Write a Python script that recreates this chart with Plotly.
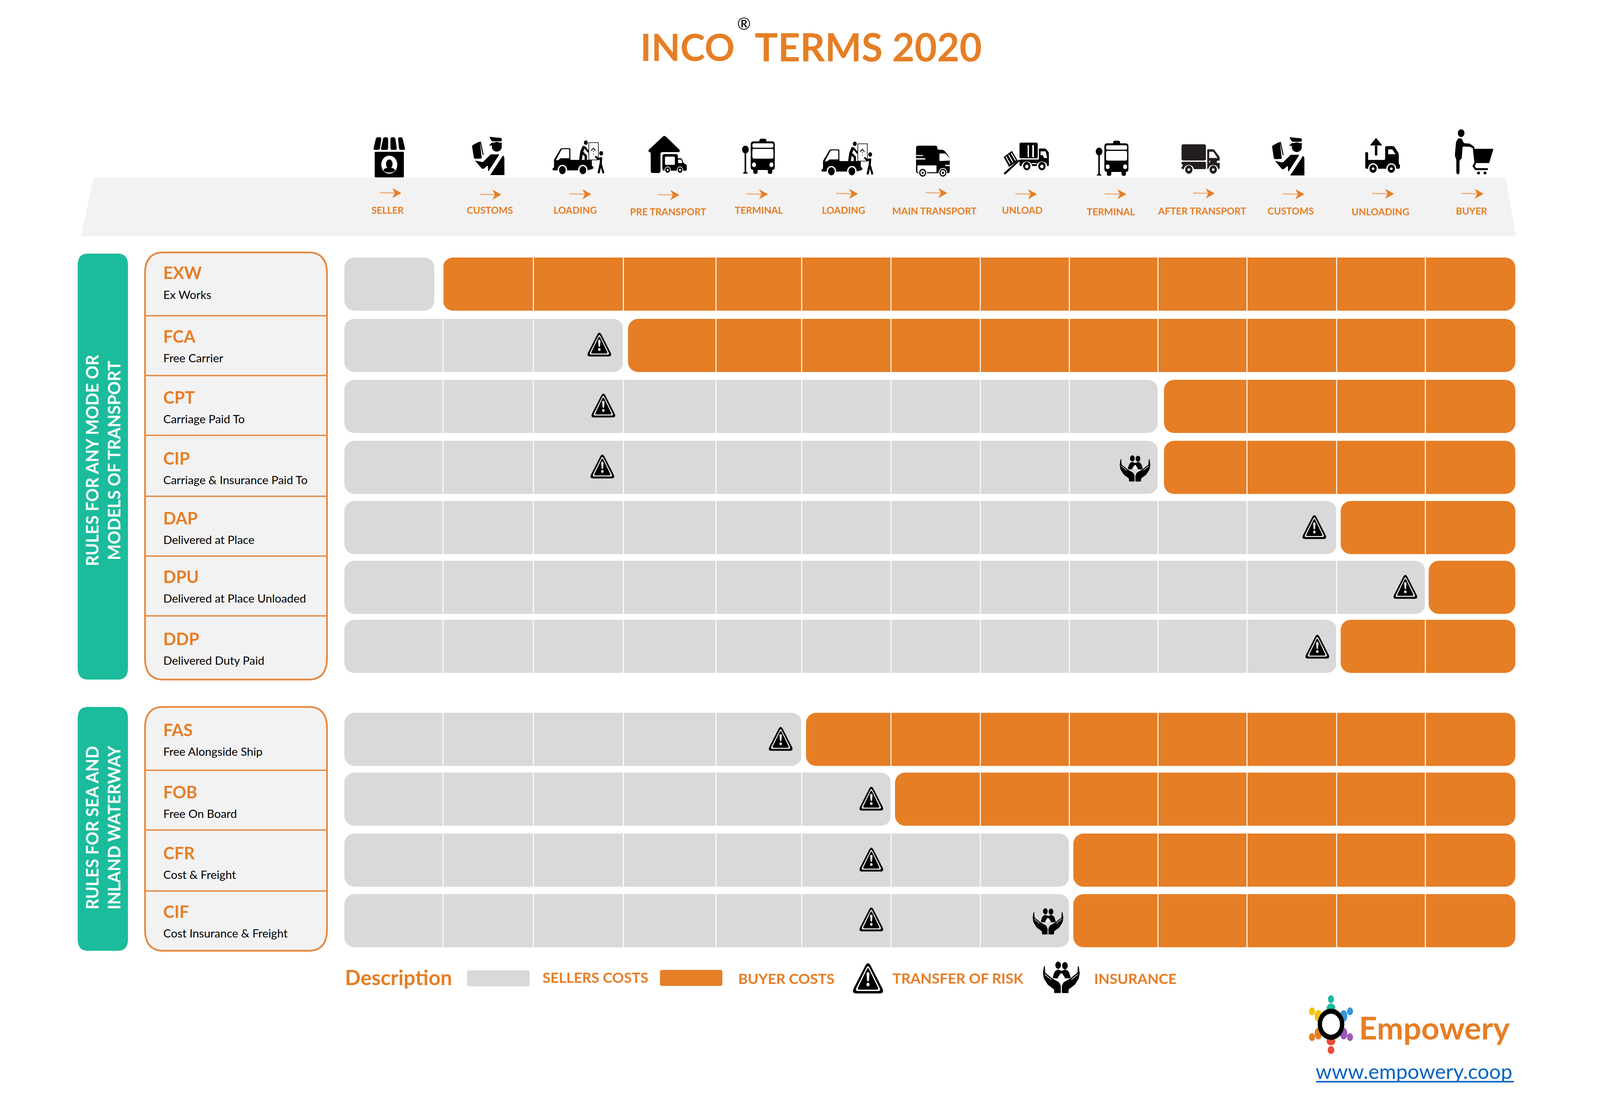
import math
import plotly.graph_objects as go

# ---------- data ----------
TERMS = ["EXW", "FCA", "CPT", "CIP", "DAP", "DPU", "DDP", "FAS", "FOB", "CFR", "CIF"]
NAMES = ["Ex Works", "Free Carrier", "Carriage Paid To", "Carriage & Insurance Paid To",
         "Delivered at Place", "Delivered at Place Unloaded", "Delivered Duty Paid",
         "Free Alongside Ship", "Free On Board", "Cost & Freight", "Cost Insurance & Freight"]
STAGES = ["SELLER", "CUSTOMS", "LOADING", "PRE TRANSPORT", "TERMINAL", "LOADING", "MAIN TRANSPORT",
          "UNLOAD", "TERMINAL", "AFTER TRANSPORT", "CUSTOMS", "UNLOADING", "BUYER"]
SELLER_STAGES = [1, 3, 9, 9, 11, 12, 11, 5, 6, 8, 8]
GROUPS = ["RULES FOR ANY MODE OR<br>MODELS OF TRANSPORT", "RULES FOR SEA AND<br>INLAND WATERWAY"]
LEGEND = ["SELLERS COSTS", "BUYER COSTS", "TRANSFER OF RISK", "INSURANCE"]

# ---------- layout constants (page pixels) ----------
W, H = 4800, 2820
ORANGE, GREY, PANEL, TEAL, BLACK = "#E67E25", "#D9D9D9", "#F2F2F2", "#1ABC9C", "#000000"
TXT = "#E67E25"
FONT = "Lato"
K = 3.061
EDGES = [1033, 1329, 1600, 1870, 2148, 2405, 2673, 2941, 3208, 3474, 3741, 4010, 4276, 4546]
BUY_GAP = {1: 0, 3: 14, 5: 13, 6: 12, 8: 12, 9: 18, 11: 12, 12: 10}
ROW_TOP = [659, 816, 972, 1128, 1282, 1435, 1586, 1824, 1977, 2133, 2288]
ROW_H = 136
CODE_Y = [228, 281, 332, 383, 433, 482, 534, 610, 662, 713, 762]
NAME_Y = [246, 299, 350, 401, 451, 500, 552, 628, 680, 731, 780]
LABEL_X = [1163, 1469, 1726, 2005, 2277, 2531, 2804, 3067, 3333, 3606, 3872, 4141, 4414]
LABEL_Y = [537, 537, 537, 541, 537, 537, 539, 537, 541, 539, 539, 541, 539]
ARROW_TIP = [(1204, 494), (1504, 498), (1774, 497), (2038, 499), (2304, 497), (2574, 496), (2842, 494),
             (3111, 497), (3379, 497), (3644, 495), (3913, 497), (4182, 496), (4451, 496)]
RISK_XY = [(1798, 883), (1810, 1039), (1807, 1195), (3943, 1350), (4216, 1503), (3952, 1656),
           (2342, 1892), (2614, 2045), (2614, 2201), (2614, 2354)]
INS_XY = [(3405, 1198), (3144, 2357)]

shapes = []

def rpath(pts, r=0):
    n = len(pts)
    if r <= 0:
        return "M" + " L".join(f"{x:.1f},{y:.1f}" for x, y in pts) + " Z"
    out = []
    for i in range(n):
        vx, vy = pts[i]
        ax, ay = pts[i - 1]
        bx, by = pts[(i + 1) % n]
        la, lb = math.hypot(ax - vx, ay - vy), math.hypot(bx - vx, by - vy)
        ra, rb = min(r, la / 2), min(r, lb / 2)
        p1 = (vx + (ax - vx) * ra / la, vy + (ay - vy) * ra / la)
        p2 = (vx + (bx - vx) * rb / lb, vy + (by - vy) * rb / lb)
        out.append(("M" if i == 0 else "L") + f"{p1[0]:.1f},{p1[1]:.1f} Q{vx:.1f},{vy:.1f} {p2[0]:.1f},{p2[1]:.1f}")
    return " ".join(out) + " Z"

def add_fill(path, color, layer="above", line=None, lw=0):
    d = dict(type="path", path=path, fillcolor=color, layer=layer, xref="x", yref="y",
             line=dict(width=lw, color=line or color))
    shapes.append(d)

class Ico:
    """Draws a pictogram given in its own drawing units, mapped to the page."""
    def __init__(self, ox, oy, sx, sy, dx=0, dy=0):
        self.ox, self.oy, self.sx, self.sy, self.dx, self.dy = ox, oy, sx, sy, dx, dy
    def t(self, p):
        return (self.ox + p[0] / self.sx + self.dx, self.oy + p[1] / self.sy + self.dy)
    def p(self, pts, color=BLACK, r=0):
        add_fill(rpath([self.t(q) for q in pts], r), color)
    def rr(self, x0, y0, x1, y1, color=BLACK, r=4):
        self.p([(x0, y0), (x1, y0), (x1, y1), (x0, y1)], color, r)
    def e(self, cx, cy, rx, ry, color=BLACK):
        self.p([(cx + rx * math.cos(a * math.pi / 14), cy + ry * math.sin(a * math.pi / 14)) for a in range(28)], color)
    def s(self, pts, w, color=BLACK):
        q = [self.t(a) for a in pts]
        shapes.append(dict(type="path", path="M" + " L".join(f"{x:.1f},{y:.1f}" for x, y in q),
                           layer="above", xref="x", yref="y", line=dict(width=w, color=color),
                           fillcolor="rgba(0,0,0,0)"))

def store(i):
    for a, b, c, d in [(1040, 1058, 1030, 1052), (1064, 1080, 1055, 1080), (1088, 1104, 1088, 1110), (1113, 1128, 1117, 1138)]:
        i.p([(a, 115), (b, 115), (d, 187), (c, 187)], r=5)
    i.rr(1035, 198, 1133, 345, r=3)
    i.e(1084, 272, 27, 52, "#FFFFFF")
    i.e(1084, 268, 11, 26)
    i.e(1084, 303, 19, 14)

def officer(i):
    i.p([(217, 123), (292, 133), (292, 158), (232, 158)], r=3)
    i.p([(215, 190), (232, 168), (292, 168), (292, 190)])
    i.e(262, 200, 30, 37)
    i.p([(112, 190), (160, 158), (172, 290), (125, 292)], r=4)
    i.s([(163, 160), (180, 262)], 2.5)
    i.p([(130, 305), (178, 318), (225, 258), (278, 258), (210, 392), (208, 342), (180, 372), (170, 365)], r=3)
    i.p([(300, 265), (308, 285), (308, 417), (222, 417)])

def loading(i):
    i.p([(118, 295), (175, 208), (255, 208), (255, 298), (435, 298), (435, 345), (450, 350), (448, 365),
         (400, 378), (105, 378), (105, 360), (118, 358)], r=3)
    i.p([(133, 300), (183, 215), (246, 215), (246, 285), (170, 285), (155, 300)], "#FFFFFF", r=2)
    for x in (188, 360):
        i.e(x, 375, 40, 40, "#FFFFFF")
        i.e(x, 376, 28, 31)
    i.e(385, 165, 16, 17)
    i.s([(370, 192), (350, 235), (340, 298)], 7)
    i.s([(350, 235), (385, 268), (385, 298)], 6)
    i.s([(370, 195), (410, 238)], 5)
    i.p([(410, 165), (490, 165), (490, 298), (410, 298)], "#FFFFFF")
    i.s([(410, 165), (490, 165), (490, 298), (410, 298), (410, 165)], 1.6)
    i.s([(430, 226), (448, 208), (466, 226)], 2.2)
    i.e(448, 232, 3, 5)
    i.e(448, 254, 3, 4)
    i.e(514, 247, 16, 17)
    i.s([(514, 278), (510, 325), (492, 400)], 5.5)
    i.s([(510, 325), (533, 400)], 5)
    i.s([(465, 270), (490, 292), (515, 282)], 5)

def warehouse(i):
    i.p([(908, 225), (1045, 108), (1178, 225), (1170, 238), (1012, 238), (1012, 398), (930, 398), (930, 238), (915, 238)], r=6)
    i.rr(1028, 253, 1158, 380, r=6)
    i.rr(1050, 272, 1133, 335, "#FFFFFF", r=3)
    i.p([(1150, 285), (1190, 285), (1205, 322), (1233, 335), (1233, 380), (1150, 380)], r=3)
    i.p([(1160, 295), (1185, 295), (1197, 322), (1160, 322)], "#FFFFFF")
    for x in (1072, 1176):
        i.e(x, 375, 26, 27, "#FFFFFF")
        i.e(x, 375, 20, 22)
        i.e(x, 375, 8, 9, "#FFFFFF")

def bus(i):
    i.rr(197, 135, 240, 170, r=6)
    i.rr(145, 155, 290, 375, r=8)
    i.rr(155, 170, 282, 204, "#FFFFFF", r=5)
    i.rr(155, 213, 282, 288, "#FFFFFF", r=5)
    i.e(165, 335, 12, 18, "#FFFFFF")
    i.e(270, 335, 12, 18, "#FFFFFF")
    i.rr(160, 365, 187, 405, r=6)
    i.rr(248, 365, 275, 405, r=6)
    i.s([(113, 240), (113, 395)], 4)
    i.e(113, 218, 20, 30)
    i.p([(97, 403), (106, 390), (120, 390), (129, 403)])

def main_truck(i):
    i.p([(1142, 188), (1270, 188), (1270, 220), (1310, 220), (1345, 280), (1345, 400), (1142, 400)], r=6)
    i.p([(1283, 248), (1318, 248), (1345, 285), (1345, 303), (1283, 306)], "#FFFFFF", r=2)
    i.rr(1140, 260, 1185, 268, "#FFFFFF", r=1)
    i.rr(1140, 285, 1198, 295, "#FFFFFF", r=1)
    i.rr(1150, 340, 1265, 392, "#FFFFFF", r=0)
    i.rr(1318, 335, 1347, 345, "#FFFFFF", r=1)
    for x in (1182, 1304):
        i.e(x, 396, 26, 36, "#FFFFFF")
        i.e(x, 396, 21, 30)
        i.e(x, 396, 14, 20, "#FFFFFF")
        i.e(x, 396, 6, 9)

def unload(i):
    i.rr(198, 165, 308, 285, r=4)
    i.rr(247, 183, 255, 278, "#FFFFFF", r=2)
    i.rr(275, 183, 285, 278, "#FFFFFF", r=2)
    i.p([(315, 210), (355, 210), (375, 240), (375, 345), (198, 345), (198, 295), (315, 295)], r=3)
    i.p([(325, 232), (355, 232), (365, 283), (345, 283), (340, 262), (325, 262)], "#FFFFFF")
    i.rr(272, 322, 302, 330, "#FFFFFF", r=0)
    for x in (242, 333):
        i.e(x, 345, 32, 35, "#FFFFFF")
        i.e(x, 345, 22, 32)
        i.e(x, 348, 10, 14, "#FFFFFF")
    i.p([(103, 398), (195, 295), (200, 305), (110, 412)])
    i.p([(103, 275), (152, 228), (188, 305), (135, 352)])
    for a, b in [((116, 272), (141, 330)), ((132, 258), (158, 316)), ((148, 244), (174, 302))]:
        i.s([a, b], 2.5, "#FFFFFF")

def after_truck(i):
    c = "#231F20"
    i.rr(1175, 178, 1322, 302, c, r=5)
    i.rr(1175, 312, 1322, 368, c, r=3)
    i.p([(1330, 216), (1370, 216), (1405, 275), (1405, 368), (1330, 368)], c, r=3)
    i.p([(1342, 235), (1367, 235), (1392, 283), (1342, 283)], "#FFFFFF")
    i.rr(1342, 302, 1347, 320, "#FFFFFF", r=0)
    i.e(1175, 340, 8, 10, "#FFFFFF")
    i.e(1397, 312, 10, 10, "#FFFFFF")
    for x in (1219, 1366):
        i.e(x, 372, 30, 36, "#FFFFFF")
        i.e(x, 372, 22, 32, c)
        i.e(x, 372, 8, 10, "#FFFFFF")

def unloading(i):
    i.p([(740, 128), (778, 187), (703, 187)], r=2)
    i.rr(733, 187, 748, 265, r=3)
    i.rr(675, 238, 692, 305, r=3)
    i.p([(675, 298), (795, 298), (795, 192), (848, 192), (877, 248), (877, 332), (884, 332), (884, 365), (675, 365)], r=4)
    i.p([(813, 217), (838, 217), (858, 254), (813, 254)], "#FFFFFF")
    for x in (722, 832):
        i.e(x, 365, 30, 42, "#FFFFFF")
        i.e(x, 365, 22, 32)
        i.e(x, 365, 8, 10, "#FFFFFF")

def buyer(i):
    i.e(1253, 92, 20, 30)
    i.p([(1222, 160), (1235, 132), (1255, 132), (1270, 170), (1305, 172), (1335, 200), (1330, 210), (1305, 197),
         (1262, 195), (1256, 290), (1243, 300), (1243, 400), (1233, 412), (1224, 400), (1224, 295), (1215, 265)], r=3)
    i.s([(1327, 200), (1338, 320)], 4)
    i.p([(1332, 212), (1448, 212), (1422, 322), (1338, 322)])
    i.s([(1338, 322), (1328, 345), (1340, 368), (1414, 368)], 5)
    i.e(1358, 398, 9, 11)
    i.e(1397, 398, 9, 11)

def warning(cx, cy, k=1.0):
    i = Ico(cx - 175 / 3 * k, cy - 190 / 3 * k, 3 / k, 3 / k)
    i.p([(175, 78), (55, 278), (295, 278)], r=13 * k)
    i.p([(175, 104), (82, 263), (268, 263)], "#FFFFFF", r=7 * k)
    i.p([(175, 118), (97, 255), (253, 255)], r=5 * k)
    i.p([(164, 150), (186, 150), (181, 205), (169, 205)], "#FFFFFF", r=3 * k)
    i.e(175, 224, 11, 11, "#FFFFFF")

def hands(cx, cy, k=1.0, bg=GREY):
    i = Ico(cx - 316 / 3 * k, cy - 205 / 3 * k, 3 / k, 3 / k)
    i.e(292, 130, 21, 23)
    i.e(343, 133, 21, 23)
    i.p([(250, 214), (265, 170), (292, 155), (318, 168), (345, 155), (372, 170), (388, 214)], r=4)
    i.e(316, 215, 26, 24, bg)
    i.e(316, 197, 14, 15, "#FFFFFF")
    for m in (False, True):
        f = (lambda x: 632 - x) if m else (lambda x: x)
        pts = [(178, 180), (186, 135), (192, 135), (195, 178), (250, 215), (300, 240), (312, 262), (312, 308),
               (262, 308), (262, 285), (215, 255), (185, 215)]
        i.p([(f(x), y) for x, y in pts], r=2)
        i.s([(f(192), 188), (f(240), 222)], 1.5, bg)

def arrow(tx, ty):
    shapes.append(dict(type="line", x0=tx - 65, x1=tx - 15, y0=ty - 1, y1=ty, xref="x", yref="y", layer="above",
                       line=dict(width=3, color="#EFAE79")))
    add_fill(rpath([(tx - 27, ty - 13), (tx, ty), (tx - 27, ty + 13), (tx - 19, ty)]), ORANGE)

# ---------- page furniture ----------
add_fill(rpath([(280, 455), (4517, 455), (4548, 605), (243, 605)]), PANEL, layer="below")
for y0, y1 in [(649, 1739), (1809, 2433)]:
    add_fill(rpath([(233, y0), (384, y0), (384, y1), (233, y1)], 30), TEAL, layer="below")
for y0, y1 in [(646, 1739), (1809, 2433)]:
    add_fill(rpath([(435, y0), (981, y0), (981, y1), (435, y1)], 55), PANEL, layer="below", line="#E58A42", lw=4.5)
for y in [808, 961, 1114, 1270, 1423, 1576, 1971, 2124, 2280]:
    shapes.append(dict(type="line", x0=435, x1=981, y0=y, y1=y, xref="x", yref="y", layer="below",
                       line=dict(width=3.5, color="#E58A42")))

# ---------- pictograms ----------
T1 = (200, 300, 1.12, 2.24)
Z6 = (1620, 310, 2.8, 3)
Z7 = (2180, 310, 2.01, 3)
Z8 = (2960, 310, 2.01, 3)
Z9 = (3760, 310, 2.01, 3)
store(Ico(*T1))
officer(Ico(*Z9, dx=-2400, dy=-1))
loading(Ico(*Z6))
warehouse(Ico(*Z6))
bus(Ico(*Z7))
loading(Ico(*Z6, dx=807, dy=3))
main_truck(Ico(*Z7))
unload(Ico(*Z8))
bus(Ico(*Z7, dx=1061, dy=5))
after_truck(Ico(*Z8))
officer(Ico(*Z9))
unloading(Ico(*Z9))
buyer(Ico(*Z9))
for tx, ty in ARROW_TIP:
    arrow(tx, ty)
for x, y in RISK_XY:
    warning(x, y)
for x, y in INS_XY:
    hands(x, y)

# ---------- legend ----------
for x0, x1, y0, y1, c in [(1401, 1589, 2483, 2524, GREY), (1980, 2167, 2482, 2523, ORANGE)]:
    add_fill(rpath([(x0, y0), (x1, y0), (x1, y1), (x0, y1)], 6), c)
warning(2604, 2505, 1.27)
hands(3184, 2500, 1.2, bg="#FFFFFF")

# ---------- logo ----------
logo = Ico(0, 0, 1, 1)
for cx, cy, rx, ry, c in [(3993, 2557, 9, 10, "#1ABC9C"), (4050, 2588, 9, 10, "#3498DB"), (3936, 2588, 9, 10, "#F1C40F"),
                          (3936, 2654, 9, 10, "#E67E22"), (4050, 2654, 9, 10, "#9B59B6"), (3993, 2687, 10, 10, "#E74C3C"),
                          (3993, 2580, 13, 12, "#1ABC9C"), (4031, 2600, 11, 15, "#3498DB"), (3955, 2600, 11, 15, "#F1C40F"),
                          (3955, 2645, 11, 15, "#E67E22"), (4031, 2645, 11, 15, "#9B59B6"), (3993, 2664, 13, 11, "#E74C3C"),
                          (3993, 2621, 40, 40, "#000000"), (3993, 2621, 27, 27, "#FFFFFF")]:
    logo.e(cx, cy, rx, ry, c)
shapes.append(dict(type="line", x0=3948, x1=4541, y0=2768, y1=2768, xref="x", yref="y", layer="above",
                   line=dict(width=4, color="#0563C1")))

# ---------- text ----------
ann = []
def text(x, y, s, size, color=TXT, anchor="left", weight=False, angle=0, family=FONT):
    ann.append(dict(x=x, y=y, xref="x", yref="y", text=f"<b>{s}</b>" if weight else s, showarrow=False,
                    xanchor=anchor, yanchor="middle", textangle=angle,
                    font=dict(family=family, size=size, color=color)))

text(1918, 118, "INCO", 96, weight=True)
text(2232, 60, "®", 42, color="#000000", anchor="center")
text(2262, 118, "TERMS 2020", 99, weight=True)
for s, x, y in zip(STAGES, LABEL_X, LABEL_Y):
    text(x, y, s, 24.5, anchor="center", weight=True)
for t, n, a, b in zip(TERMS, NAMES, CODE_Y, NAME_Y):
    text(488, a * K, t, 43, weight=True)
    text(488, b * K, n, 29.5, color="#000000")
text(308, 1178, GROUPS[0], 43, color="#FFFFFF", anchor="center", weight=True, angle=-90)
text(308, 2118, GROUPS[1], 43, color="#FFFFFF", anchor="center", weight=True, angle=-90)
text(1033, 2500, "Description", 53, weight=True)
for s, x, y in zip(LEGEND, [1625, 2213, 2675, 3280], [2500, 2503, 2502, 2503]):
    text(x, y, s, 37, weight=True)
text(4075, 2628, "Empowery", 81, weight=True)
text(3945, 2740, "www.empowery.coop", 52.5, color="#0563C1")

# ---------- marks ----------
ys = [t + ROW_H / 2 for t in ROW_TOP]
sel_end = [EDGES[n] - (26 if n == 1 else 0) for n in SELLER_STAGES]
buy_start = [EDGES[n] + BUY_GAP[n] for n in SELLER_STAGES]
fig = go.Figure()
fig.add_trace(go.Bar(name="Sellers costs", orientation="h", y=ys, base=[EDGES[0]] * len(ys),
                     x=[e - EDGES[0] for e in sel_end], width=ROW_H,
                     marker=dict(color=GREY, cornerradius=26, line=dict(width=0))))
fig.add_trace(go.Bar(name="Buyer costs", orientation="h", y=ys, base=buy_start,
                     x=[EDGES[-1] - s for s in buy_start], width=ROW_H,
                     marker=dict(color=ORANGE, cornerradius=26, line=dict(width=0))))
gx, gy = [], []
for top in ROW_TOP:
    for e in EDGES[1:-1]:
        gx += [e, e, None]
        gy += [top, top + ROW_H, None]
fig.add_trace(go.Scatter(x=gx, y=gy, mode="lines", line=dict(color="#FFFFFF", width=2.5), hoverinfo="skip"))

fig.update_layout(autosize=True, margin=dict(l=0, r=0, t=0, b=0), paper_bgcolor="#FFFFFF", plot_bgcolor="#FFFFFF",
                  barmode="overlay", showlegend=False, shapes=shapes, annotations=ann,
                  xaxis=dict(range=[9.4, 4790.6], visible=False, domain=[0, 1]),
                  yaxis=dict(range=[2812, 8], visible=False, domain=[0, 1]))
fig.write_html("out.html")
